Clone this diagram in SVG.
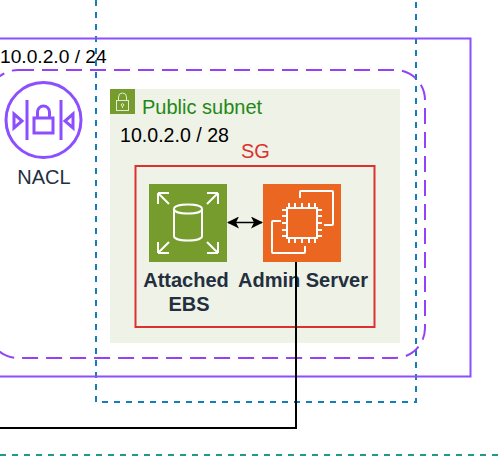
<svg xmlns="http://www.w3.org/2000/svg" width="503" height="460" viewBox="0 0 503 460">
<style>
text{font-family:"Liberation Sans",Arial,sans-serif}
.lbl{font-size:19.600px;fill:#000}
.b{font-size:20px;font-weight:700;fill:#232f3e;text-anchor:middle}
.w{fill:none;stroke:#fff;stroke-width:2}
.p{fill:none;stroke:#8c4fff;stroke-width:3}
</style>
<defs>
<marker id="ah" viewBox="0 0 12 12" refX="11" refY="6" markerWidth="12" markerHeight="12" markerUnits="userSpaceOnUse" orient="auto-start-reverse"><path d="M0 0L12 6L0 12L3 6Z" fill="#000"/></marker>
</defs>
<rect width="503" height="460" fill="#fff"/>
<g id="subnet">
<rect x="110" y="89" width="290" height="254" fill="#eff2e6"/>
<rect x="110" y="89" width="25" height="25" fill="#759c2c"/>
<g fill="none" stroke="#fff" stroke-width="1" opacity=".8">
<rect x="116.500" y="100.500" width="12" height="10"/>
<path d="M118.500 100.500V97a4 4 0 0 1 8 0V100.500"/>
<circle cx="122.500" cy="105" r="1.300"/>
<path d="M122.500 106.300V108"/>
</g>
<text x="142" y="113.500" style="font-size:20px" fill="#248814">Public subnet</text>
<text x="120" y="142" class="lbl">10.0.2.0 / 28</text>
</g>
<g id="vpc-blue"><path d="M96 0V402H416V0" fill="none" stroke="#147eba" stroke-width="2" stroke-dasharray="6 6"/></g>
<g id="nacl-boundary">
<path d="M0 38.500H470.500V376.500H0" fill="none" stroke="#8c4fff" stroke-width="2"/>
<text x="0" y="62.500" class="lbl" style="font-size:19.200px">10.0.2.0 / 24</text>
</g>
<g id="nacl-dashed"><rect x="-12" y="70" width="437" height="288" rx="30" ry="30" fill="none" stroke="#9342f5" stroke-width="2" stroke-dasharray="16 8"/></g>
<g id="teal"><path d="M0 455H503" fill="none" stroke="#1b9c8f" stroke-width="2" stroke-dasharray="6 6"/></g>
<g id="nacl">
<circle cx="43.500" cy="120" r="37.500" class="p"/>
<path d="M27 100V140M61 100V140" class="p"/>
<path d="M14 114L22 121L14 128ZM73 114L65 121L73 128Z" class="p"/>
<rect x="34" y="118" width="19" height="15" class="p"/>
<path d="M37.500 118V112a6 6 0 0 1 12 0V118" class="p"/>
<text x="44" y="184" text-anchor="middle" style="font-size:20px" fill="#232f3e">NACL</text>
</g>
<g id="sg">
<rect x="135.500" y="166" width="239" height="161" fill="none" stroke="#dd3130" stroke-width="2"/>
<text x="241" y="158" style="font-size:20px" fill="#dd3130">SG</text>
</g>
<g id="ebs">
<rect x="149" y="184" width="78" height="78" fill="#759c2c"/>
<path class="w" d="M174 209C174 203 202 203 202 209V236C202 242 174 242 174 236ZM174 209C174 215 202 215 202 209"/>
<path class="w" d="M158 193L169 204M158 193V204M158 193H169M218 193L207 204M218 193V204M218 193H207M158 253L169 242M158 253V242M158 253H169M218 253L207 242M218 253V242M218 253H207"/>
<text x="186" y="287" class="b">Attached</text>
<text x="189" y="311" class="b">EBS</text>
</g>
<g id="admin-server">
<rect x="263" y="184" width="78" height="78" fill="#eb6621"/>
<rect x="287" y="208" width="30" height="30" class="w"/>
<path class="w" d="M300 198V192a1 1 0 0 1 1-1H332a1 1 0 0 1 1 1V224a1 1 0 0 1-1 1H324"/>
<path class="w" d="M281 221H273a1 1 0 0 0-1 1V252a1 1 0 0 0 1 1H304a1 1 0 0 0 1-1V246"/>
<path class="w" d="M289 203V208M295 203V208M302 203V208M309 203V208M315 203V208M289 238V243M295 238V243M302 238V243M309 238V243M315 238V243M282 210H287M282 216H287M282 223H287M282 230H287M282 236H287M317 210H322M317 216H322M317 223H322M317 230H322M317 236H322"/>
<text x="303" y="287" class="b">Admin Server</text>
</g>
<g id="connectors" fill="none" stroke="#000">
<path d="M228 222.500H262" stroke-width="1.500" marker-start="url(#ah)" marker-end="url(#ah)"/>
<path d="M296 262V428H0" stroke-width="2"/>
</g>
</svg>
